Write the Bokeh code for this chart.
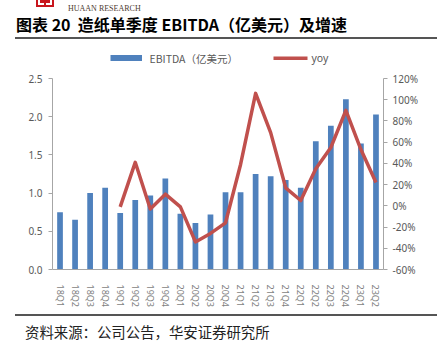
from bokeh.plotting import figure
from bokeh.layouts import column
from bokeh.models import (FactorRange, Range1d, LinearAxis, FixedTicker, NumeralTickFormatter,
                          ColumnDataSource, Label, BoxAnnotation, Div)
from bokeh.embed import file_html
from bokeh.resources import INLINE

quarters = ["18Q1", "18Q2", "18Q3", "18Q4", "19Q1", "19Q2", "19Q3", "19Q4",
            "20Q1", "20Q2", "20Q3", "20Q4", "21Q1", "21Q2", "21Q3", "21Q4",
            "22Q1", "22Q2", "22Q3", "22Q4", "23Q1", "23Q2"]
ebitda = [0.75, 0.65, 1.00, 1.07, 0.74, 0.91, 0.97, 1.19,
          0.73, 0.61, 0.72, 1.01, 1.01, 1.25, 1.22, 1.17,
          1.07, 1.68, 1.88, 2.23, 1.65, 2.03]
yoy_quarters = quarters[4:]
yoy = [-0.01, 0.41, -0.03, 0.11, -0.01, -0.34, -0.26, -0.16,
       0.39, 1.06, 0.69, 0.17, 0.05, 0.35, 0.55, 0.90, 0.53, 0.22]
left_ticks = [0.0, 0.5, 1.0, 1.5, 2.0, 2.5]
right_ticks = [-0.6, -0.4, -0.2, 0.0, 0.2, 0.4, 0.6, 0.8, 1.0, 1.2]
title_text = "图表 20&nbsp;&nbsp;造纸单季度 EBITDA（亿美元）及增速"
legend_bar = "EBITDA（亿美元）"
legend_line = "yoy"
source_text = "资料来源：公司公告，华安证券研究所"
logo_text = "HUAAN RESEARCH"

W, H = 437, 343
HEAD_H = 37                 # header block (logo + title)
RULE_H = 2                  # thickness of the two grey rules
TOP_RULE_Y = HEAD_H         # 37..39
MAIN_TOP = HEAD_H + RULE_H  # 39
MAIN_BOT = 314              # lower rule starts here
FOOT_H = H - MAIN_BOT - RULE_H
MAIN_H = MAIN_BOT - MAIN_TOP
FL, FR, FB = 52, 383, 269          # frame edges on the page
AX_TOP = 78                         # where 2.5 / 120% sit
FT = 45                             # frame top (extended to hold the legend)

BAR_COLOR = "#4F81BD"
LINE_COLOR = "#C0504D"
RULE_COLOR = "#555555"
axis_color = "#A6A6A6"
lab_color = "#595959"

# ---------- header ----------
head_html = f"""
<div style="position:relative;width:{W}px;height:{HEAD_H}px;overflow:hidden;background:#fff;">
  <div style="position:absolute;left:36px;top:0px;width:18px;height:7px;background:#C8161D;"></div>
  <div style="position:absolute;left:38px;top:0px;width:14px;height:5px;background:#fff;"></div>
  <div style="position:absolute;left:40px;top:0px;width:10px;height:3px;background:#C8161D;"></div>
  <div style="position:absolute;left:44px;top:0px;width:2px;height:5px;background:#C8161D;"></div>
  <div style="position:absolute;left:68px;top:3px;font-family:'Liberation Serif';font-size:8px;
       line-height:11px;color:#4D3B30;white-space:nowrap;">{logo_text}</div>
  <div style="position:absolute;left:16px;top:14px;font-family:'Noto Sans CJK SC';font-size:16px;
       font-weight:bold;line-height:20px;color:#000;white-space:nowrap;">{title_text}</div>
</div>"""
head = Div(text=head_html, width=W, height=HEAD_H, margin=0)
rule_top = Div(text="", width=W - 15, height=RULE_H, margin=(0, 0, 0, 15),
               styles={"background-color": RULE_COLOR})

# ---------- main chart ----------
y_top = 2.5 * (FB - FT) / (FB - AX_TOP)
r_top = -0.6 + 1.8 * (FB - FT) / (FB - AX_TOP)
p = figure(width=W, height=MAIN_H, x_range=FactorRange(*quarters, range_padding=0),
           y_range=Range1d(0, y_top), output_backend="svg", toolbar_location=None,
           min_border_left=FL, min_border_right=W - FR, min_border_top=FT - MAIN_TOP,
           min_border_bottom=MAIN_BOT - FB)
p.extra_y_ranges = {"yoy": Range1d(-0.6, r_top)}
p.outline_line_color = None
p.xgrid.visible = False
p.ygrid.visible = False
p.background_fill_color = "white"
p.border_fill_color = "white"

bar_src = ColumnDataSource(dict(q=quarters, v=ebitda))
p.vbar(x="q", top="v", width=0.38, source=bar_src, fill_color=BAR_COLOR, line_color=None)
line_src = ColumnDataSource(dict(q=yoy_quarters, v=yoy))
p.line(x="q", y="v", source=line_src, y_range_name="yoy", line_color=LINE_COLOR,
       line_width=3.5, line_join="round")

ya = p.yaxis[0]
ya.ticker = FixedTicker(ticks=left_ticks)
ya.formatter = NumeralTickFormatter(format="0.0")
ya.bounds = (0, 2.5)
ya.axis_line_color = axis_color
ya.major_tick_line_color = axis_color
ya.major_tick_out = 4
ya.major_tick_in = 0
ya.minor_tick_line_color = None
ya.major_label_text_color = lab_color
ya.major_label_text_font = "Noto Sans"
ya.major_label_text_font_size = "10px"
ya.major_label_standoff = 6

ra = LinearAxis(y_range_name="yoy", ticker=FixedTicker(ticks=right_ticks),
                formatter=NumeralTickFormatter(format="0%"), bounds=(-0.6, 1.2))
ra.axis_line_color = axis_color
ra.major_tick_line_color = axis_color
ra.major_tick_out = 4
ra.major_tick_in = 0
ra.minor_tick_line_color = None
ra.major_label_text_color = lab_color
ra.major_label_text_font = "Noto Sans"
ra.major_label_text_font_size = "10px"
ra.major_label_standoff = 5
p.add_layout(ra, "right")

xa = p.xaxis[0]
xa.axis_line_color = axis_color
xa.major_tick_line_color = None
xa.major_tick_out = 0
xa.major_tick_in = 0
xa.major_label_orientation = "vertical"
xa.major_label_text_color = "#7F7F7F"
xa.major_label_text_font = "Noto Sans"
xa.major_label_text_font_size = "9px"
xa.major_label_standoff = 15


# legend drawn inside the (extended) frame; screen units are frame-relative
def fx(x):
    return x - FL


def fy(y):
    return FB - y


def sbox(x0, y0, x1, y1, color):
    p.add_layout(BoxAnnotation(left=fx(x0), right=fx(x1), top=fy(y0), bottom=fy(y1),
                               left_units="screen", right_units="screen",
                               top_units="screen", bottom_units="screen",
                               fill_color=color, fill_alpha=1.0, line_color=None))


def slabel(x, y, text, font):
    p.add_layout(Label(x=fx(x), y=fy(y), x_units="screen", y_units="screen", text=text,
                       text_font=font, text_font_size="10.5px", text_color=lab_color,
                       text_align="left", text_baseline="middle"))


sbox(110, 54.5, 141.5, 60.5, BAR_COLOR)
slabel(149, 57.5, legend_bar, "Noto Sans CJK SC")
sbox(273, 56, 307, 59.5, LINE_COLOR)
slabel(311, 57.5, legend_line, "Noto Sans")

# ---------- footer ----------
rule_bot = Div(text="", width=W - 15, height=RULE_H, margin=(0, 0, 0, 15),
               styles={"background-color": RULE_COLOR})
foot_html = f"""
<div style="position:relative;width:{W}px;height:{FOOT_H}px;overflow:hidden;background:#fff;">
  <div style="position:absolute;left:25px;top:6px;font-family:'Noto Sans CJK SC';font-size:14.4px;
       line-height:19px;color:#222;white-space:nowrap;">{source_text}</div>
</div>"""
foot = Div(text=foot_html, width=W, height=FOOT_H, margin=0)

layout = column(head, rule_top, p, rule_bot, foot, spacing=0)
open("out.html", "w").write(file_html(layout, INLINE))
